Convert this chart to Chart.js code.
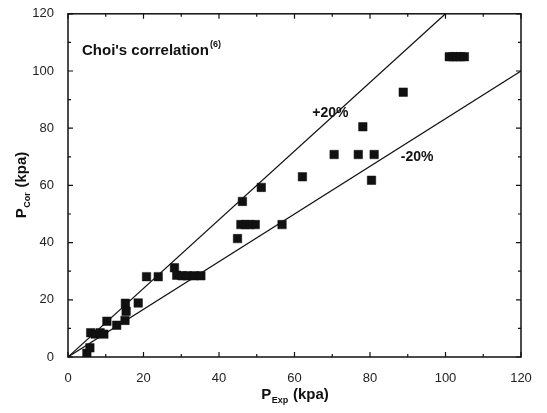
<!DOCTYPE html>
<html>
<head>
<meta charset="utf-8">
<script src="https://cdn.jsdelivr.net/npm/chart.js@4"></script>
<style>
  html, body { margin: 0; padding: 0; background: #fff; }
  #wrap { width: 547px; height: 413px; }
</style>
</head>
<body>
<div id="wrap"><canvas id="c"></canvas></div>
<script>
const pExp = [5, 5.8, 6, 7.2, 8.5, 9.5, 10.3, 12.9, 15.1, 15.4, 15.2, 18.6, 20.8, 23.9, 28.2, 28.8, 30.2, 31.6, 33.4, 35.2,
  44.9, 45.8, 46.2, 47, 48.2, 49.6, 51.2, 56.7, 62.1, 70.5, 76.9, 78.1, 80.4, 81.1, 88.8, 101, 102, 103, 104, 105];
const pCor = [1.3, 3.2, 8.5, 8, 8.5, 8, 12.5, 11.1, 12.8, 16, 18.8, 18.9, 28.1, 28.1, 31.2, 28.6, 28.4, 28.4, 28.4, 28.4,
  41.4, 46.3, 54.4, 46.3, 46.3, 46.3, 59.3, 46.3, 63, 70.8, 70.8, 80.5, 61.8, 70.8, 92.6, 105, 105, 105, 105, 105];

// +/-20% bounds
const upperX = [0, 100];
const upperY = [0, 120];
const lowerX = [0, 120];
const lowerY = [0, 100];

const xTicks = [0, 20, 40, 60, 80, 100, 120];
const yTicks = [0, 20, 40, 60, 80, 100, 120];
const minorTicks = [10, 30, 50, 70, 90, 110];

const pts = pExp.map((x, i) => ({ x: x, y: pCor[i] }));
const up = upperX.map((x, i) => ({ x: x, y: upperY[i] }));
const lo = lowerX.map((x, i) => ({ x: x, y: lowerY[i] }));

const FONT = "'Liberation Sans', Arial, sans-serif";

// inward ticks on all four sides, frame, texts
const decor = {
  id: 'decor',
  afterDraw(chart) {
    const ctx = chart.ctx;
    const a = chart.chartArea;
    const xs = chart.scales.x, ys = chart.scales.y;
    ctx.save();
    ctx.strokeStyle = '#111';
    ctx.lineWidth = 1.5;
    ctx.strokeRect(a.left, a.top, a.right - a.left, a.bottom - a.top);
    ctx.lineWidth = 1.2;
    const tick = (v, len) => {
      const px = xs.getPixelForValue(v);
      const py = ys.getPixelForValue(v);
      ctx.beginPath();
      ctx.moveTo(px, a.bottom); ctx.lineTo(px, a.bottom - len);
      ctx.moveTo(px, a.top); ctx.lineTo(px, a.top + len);
      ctx.moveTo(a.left, py); ctx.lineTo(a.left + len, py);
      ctx.moveTo(a.right, py); ctx.lineTo(a.right - len, py);
      ctx.stroke();
    };
    xTicks.forEach(v => tick(v, 5));
    minorTicks.forEach(v => tick(v, 3));

    ctx.fillStyle = '#111';
    ctx.textBaseline = 'alphabetic';
    // title inside plot
    ctx.font = 'bold 15px ' + FONT;
    let tx = xs.getPixelForValue(3.7), ty = ys.getPixelForValue(105.5);
    ctx.textAlign = 'left';
    ctx.fillText("Choi's correlation", tx, ty);
    let w = ctx.measureText("Choi's correlation").width;
    ctx.font = 'bold 9px ' + FONT;
    ctx.fillText('(6)', tx + w + 1, ty - 8);

    ctx.font = 'bold 14px ' + FONT;
    ctx.textAlign = 'center';
    ctx.fillText('+20%', xs.getPixelForValue(69.5), ys.getPixelForValue(84));
    ctx.fillText('-20%', xs.getPixelForValue(92.5), ys.getPixelForValue(68.5));

    // x axis title
    const drawSub = (main, sub, rest, cx, cy) => {
      ctx.font = 'bold 15px ' + FONT;
      const w1 = ctx.measureText(main).width;
      const w3 = ctx.measureText(rest).width;
      ctx.font = 'bold 9px ' + FONT;
      const w2 = ctx.measureText(sub).width;
      let x0 = cx - (w1 + w2 + w3) / 2;
      ctx.textAlign = 'left';
      ctx.font = 'bold 15px ' + FONT;
      ctx.fillText(main, x0, cy);
      ctx.font = 'bold 9px ' + FONT;
      ctx.fillText(sub, x0 + w1 + 0.5, cy + 4);
      ctx.font = 'bold 15px ' + FONT;
      ctx.fillText(rest, x0 + w1 + w2 + 1, cy);
    };
    drawSub('P', 'Exp', ' (kpa)', (a.left + a.right) / 2, 399);
    ctx.save();
    ctx.translate(26, (a.top + a.bottom) / 2);
    ctx.rotate(-Math.PI / 2);
    drawSub('P', 'Cor', ' (kpa)', 0, 0);
    ctx.restore();
    ctx.restore();
  }
};

new Chart(document.getElementById('c'), {
  type: 'scatter',
  data: {
    datasets: [
      {
        data: pts,
        pointStyle: 'rect',
        pointRadius: 6,
        backgroundColor: '#111',
        borderColor: '#111',
        borderWidth: 0.5,
        order: 1
      },
      {
        type: 'line',
        data: up,
        borderColor: '#111',
        borderWidth: 1.2,
        pointRadius: 0,
        fill: false,
        order: 2
      },
      {
        type: 'line',
        data: lo,
        borderColor: '#111',
        borderWidth: 1.2,
        pointRadius: 0,
        fill: false,
        order: 2
      }
    ]
  },
  options: {
    responsive: true,
    maintainAspectRatio: false,
    animation: false,
    events: [],
    layout: { padding: { top: 10, right: 26, left: 0, bottom: 0 } },
    plugins: { legend: { display: false }, tooltip: { enabled: false } },
    scales: {
      x: {
        type: 'linear',
        min: 0, max: 120,
        afterFit(s) { s.height = 56; },
        afterBuildTicks(s) { s.ticks = xTicks.map(v => ({ value: v })); },
        grid: { display: false },
        border: { display: false },
        ticks: { color: '#222', font: { family: FONT, size: 13 }, padding: 6, maxRotation: 0 }
      },
      y: {
        type: 'linear',
        min: 0, max: 120,
        afterFit(s) { s.width = 68; },
        afterBuildTicks(s) { s.ticks = yTicks.map(v => ({ value: v })); },
        grid: { display: false },
        border: { display: false },
        ticks: { color: '#222', font: { family: FONT, size: 13 }, padding: 6 }
      }
    }
  },
  plugins: [decor]
});
</script>
</body>
</html>
